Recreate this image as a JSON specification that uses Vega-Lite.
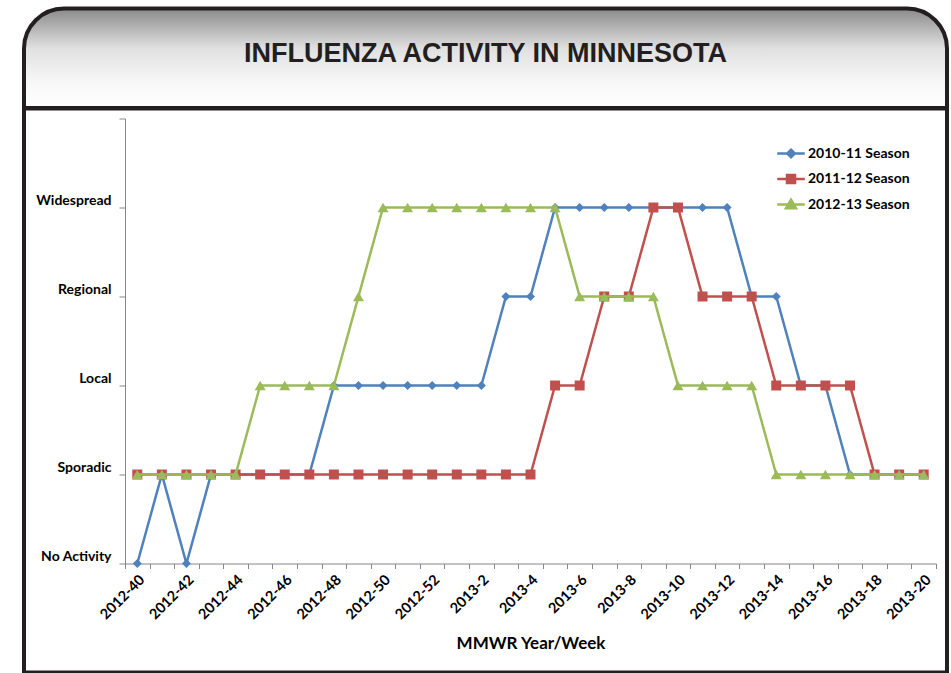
{
  "$schema": "https://vega.github.io/schema/vega-lite/v6.json",
  "background": "white",
  "padding": {"left": 21, "top": 6.5, "right": 0, "bottom": 0},
  "bounds": "flush",
  "spacing": 0,
  "config": {
    "view": {"stroke": null},
    "font": "Lato"
  },
  "vconcat": [
    {
      "width": 923,
      "height": 99.5,
      "data": {"values": [{"t": "INFLUENZA ACTIVITY IN MINNESOTA"}]},
      "layer": [
        {
          "mark": {
            "type": "rect",
            "fill": {
              "gradient": "linear",
              "x1": 0, "y1": 0, "x2": 0, "y2": 1,
              "stops": [
                {"offset": 0, "color": "#8a8a8a"},
                {"offset": 0.4, "color": "#e0e0e0"},
                {"offset": 0.75, "color": "#f8f8f8"},
                {"offset": 1, "color": "#ffffff"}
              ]
            },
            "stroke": "#231f20",
            "strokeWidth": 4,
            "cornerRadiusTopLeft": 40,
            "cornerRadiusTopRight": 40
          }
        },
        {
          "mark": {
            "type": "text",
            "font": "Liberation Sans",
            "fontWeight": "bold",
            "fontSize": 27,
            "baseline": "alphabetic",
            "align": "center",
            "dy": 3.5,
            "color": "#231f20"
          },
          "encoding": {"text": {"field": "t"}}
        }
      ]
    },
    {
      "width": 923,
      "height": 564,
      "view": {"stroke": "#231f20", "strokeWidth": 4, "fill": "white"},
      "data": {
        "values": [
          {"week": "2012-40", "2010-11 Season": 0, "2011-12 Season": 1, "2012-13 Season": 1},
          {"week": "2012-41", "2010-11 Season": 1, "2011-12 Season": 1, "2012-13 Season": 1},
          {"week": "2012-42", "2010-11 Season": 0, "2011-12 Season": 1, "2012-13 Season": 1},
          {"week": "2012-43", "2010-11 Season": 1, "2011-12 Season": 1, "2012-13 Season": 1},
          {"week": "2012-44", "2010-11 Season": 1, "2011-12 Season": 1, "2012-13 Season": 1},
          {"week": "2012-45", "2010-11 Season": 1, "2011-12 Season": 1, "2012-13 Season": 2},
          {"week": "2012-46", "2010-11 Season": 1, "2011-12 Season": 1, "2012-13 Season": 2},
          {"week": "2012-47", "2010-11 Season": 1, "2011-12 Season": 1, "2012-13 Season": 2},
          {"week": "2012-48", "2010-11 Season": 2, "2011-12 Season": 1, "2012-13 Season": 2},
          {"week": "2012-49", "2010-11 Season": 2, "2011-12 Season": 1, "2012-13 Season": 3},
          {"week": "2012-50", "2010-11 Season": 2, "2011-12 Season": 1, "2012-13 Season": 4},
          {"week": "2012-51", "2010-11 Season": 2, "2011-12 Season": 1, "2012-13 Season": 4},
          {"week": "2012-52", "2010-11 Season": 2, "2011-12 Season": 1, "2012-13 Season": 4},
          {"week": "2013-1", "2010-11 Season": 2, "2011-12 Season": 1, "2012-13 Season": 4},
          {"week": "2013-2", "2010-11 Season": 2, "2011-12 Season": 1, "2012-13 Season": 4},
          {"week": "2013-3", "2010-11 Season": 3, "2011-12 Season": 1, "2012-13 Season": 4},
          {"week": "2013-4", "2010-11 Season": 3, "2011-12 Season": 1, "2012-13 Season": 4},
          {"week": "2013-5", "2010-11 Season": 4, "2011-12 Season": 2, "2012-13 Season": 4},
          {"week": "2013-6", "2010-11 Season": 4, "2011-12 Season": 2, "2012-13 Season": 3},
          {"week": "2013-7", "2010-11 Season": 4, "2011-12 Season": 3, "2012-13 Season": 3},
          {"week": "2013-8", "2010-11 Season": 4, "2011-12 Season": 3, "2012-13 Season": 3},
          {"week": "2013-9", "2010-11 Season": 4, "2011-12 Season": 4, "2012-13 Season": 3},
          {"week": "2013-10", "2010-11 Season": 4, "2011-12 Season": 4, "2012-13 Season": 2},
          {"week": "2013-11", "2010-11 Season": 4, "2011-12 Season": 3, "2012-13 Season": 2},
          {"week": "2013-12", "2010-11 Season": 4, "2011-12 Season": 3, "2012-13 Season": 2},
          {"week": "2013-13", "2010-11 Season": 3, "2011-12 Season": 3, "2012-13 Season": 2},
          {"week": "2013-14", "2010-11 Season": 3, "2011-12 Season": 2, "2012-13 Season": 1},
          {"week": "2013-15", "2010-11 Season": 2, "2011-12 Season": 2, "2012-13 Season": 1},
          {"week": "2013-16", "2010-11 Season": 2, "2011-12 Season": 2, "2012-13 Season": 1},
          {"week": "2013-17", "2010-11 Season": 1, "2011-12 Season": 2, "2012-13 Season": 1},
          {"week": "2013-18", "2010-11 Season": 1, "2011-12 Season": 1, "2012-13 Season": 1},
          {"week": "2013-19", "2010-11 Season": 1, "2011-12 Season": 1, "2012-13 Season": 1},
          {"week": "2013-20", "2010-11 Season": 1, "2011-12 Season": 1, "2012-13 Season": 1}
        ]
      },
      "transform": [
        {"fold": ["2010-11 Season", "2011-12 Season", "2012-13 Season"], "as": ["season", "level"]}
      ],
      "encoding": {
        "x": {
          "field": "week",
          "type": "ordinal",
          "sort": null,
          "scale": {"type": "band", "range": [101, 912], "paddingInner": 0, "paddingOuter": 0},
          "axis": {
            "offset": -109,
            "title": "MMWR Year/Week",
            "titleFont": "Lato",
            "titleFontWeight": "bold",
            "titleFontSize": 17,
            "titleColor": "#000000",
            "titlePadding": 14,
            "labelAngle": -45,
            "labelExpr": "toNumber(split(datum.value, '-')[1]) % 2 == 0 ? datum.value : ''",
            "labelOverlap": false,
            "labelFont": "Lato",
            "labelFontWeight": "bold",
            "labelFontSize": 14.5,
            "labelColor": "#000000",
            "labelPadding": 4,
            "tickBand": "extent",
            "tickSize": 5,
            "tickColor": "#868686",
            "domainColor": "#868686",
            "grid": false
          }
        },
        "y": {
          "field": "level",
          "type": "quantitative",
          "scale": {"domain": [0, 5], "range": [455, 10], "nice": false, "zero": false},
          "axis": {
            "offset": -101,
            "title": null,
            "values": [0, 1, 2, 3, 4, 5],
            "labelExpr": "datum.value < 5 ? ['No Activity', 'Sporadic', 'Local', 'Regional', 'Widespread'][datum.value] : ''",
            "labelFont": "Lato",
            "labelFontWeight": "bold",
            "labelFontSize": 14,
            "labelColor": "#000000",
            "labelBaseline": "bottom",
            "labelPadding": 8,
            "tickSize": 6,
            "tickColor": "#868686",
            "domainColor": "#868686",
            "grid": false
          }
        },
        "color": {
          "field": "season",
          "type": "nominal",
          "scale": {
            "domain": ["2010-11 Season", "2011-12 Season", "2012-13 Season"],
            "range": ["#4F81BD", "#C0504D", "#9BBB59"]
          },
          "legend": {
            "orient": "none",
            "legendX": 753,
            "legendY": 131,
            "title": null,
            "symbolSize": 625,
            "symbolStrokeWidth": 2.5,
            "rowPadding": 2.5,
            "labelOffset": 3,
            "labelFont": "Lato",
            "labelFontWeight": "bold",
            "labelFontSize": 14,
            "labelColor": "#000000",
            "encode": {
              "symbols": {
                "update": {
                  "shape": {"signal": "datum.value == '2010-11 Season' ? 'M-1.1,0H1.1M0,-0.3L0.3,0L0,0.3L-0.3,0Z' : datum.value == '2011-12 Season' ? 'M-1.1,0H1.1M-0.32,-0.32H0.32V0.32H-0.32Z' : 'M-1.1,0H1.1M0,-0.38L0.4,0.3L-0.4,0.3Z'"},
                  "fill": {"signal": "datum.value == '2010-11 Season' ? '#4F81BD' : datum.value == '2011-12 Season' ? '#C0504D' : '#9BBB59'"},
                  "stroke": {"signal": "datum.value == '2010-11 Season' ? '#4F81BD' : datum.value == '2011-12 Season' ? '#C0504D' : '#9BBB59'"},
                  "strokeWidth": {"value": 2.5},
                  "opacity": {"value": 1}
                }
              }
            }
          }
        }
      },
      "layer": [
        {
          "transform": [{"filter": {"field": "season", "equal": "2010-11 Season"}}],
          "mark": {"type": "line", "strokeWidth": 2.5}
        },
        {
          "transform": [{"filter": {"field": "season", "equal": "2010-11 Season"}}],
          "mark": {"type": "point", "shape": "diamond", "filled": true, "size": 81, "opacity": 1}
        },
        {
          "transform": [{"filter": {"field": "season", "equal": "2011-12 Season"}}],
          "mark": {"type": "line", "strokeWidth": 2.5}
        },
        {
          "transform": [{"filter": {"field": "season", "equal": "2011-12 Season"}}],
          "mark": {"type": "point", "shape": "square", "filled": true, "size": 100, "opacity": 1}
        },
        {
          "transform": [{"filter": {"field": "season", "equal": "2012-13 Season"}}],
          "mark": {"type": "line", "strokeWidth": 2.5}
        },
        {
          "transform": [{"filter": {"field": "season", "equal": "2012-13 Season"}}],
          "mark": {"type": "point", "shape": "triangle-up", "filled": true, "size": 121, "opacity": 1}
        }
      ]
    }
  ]
}
